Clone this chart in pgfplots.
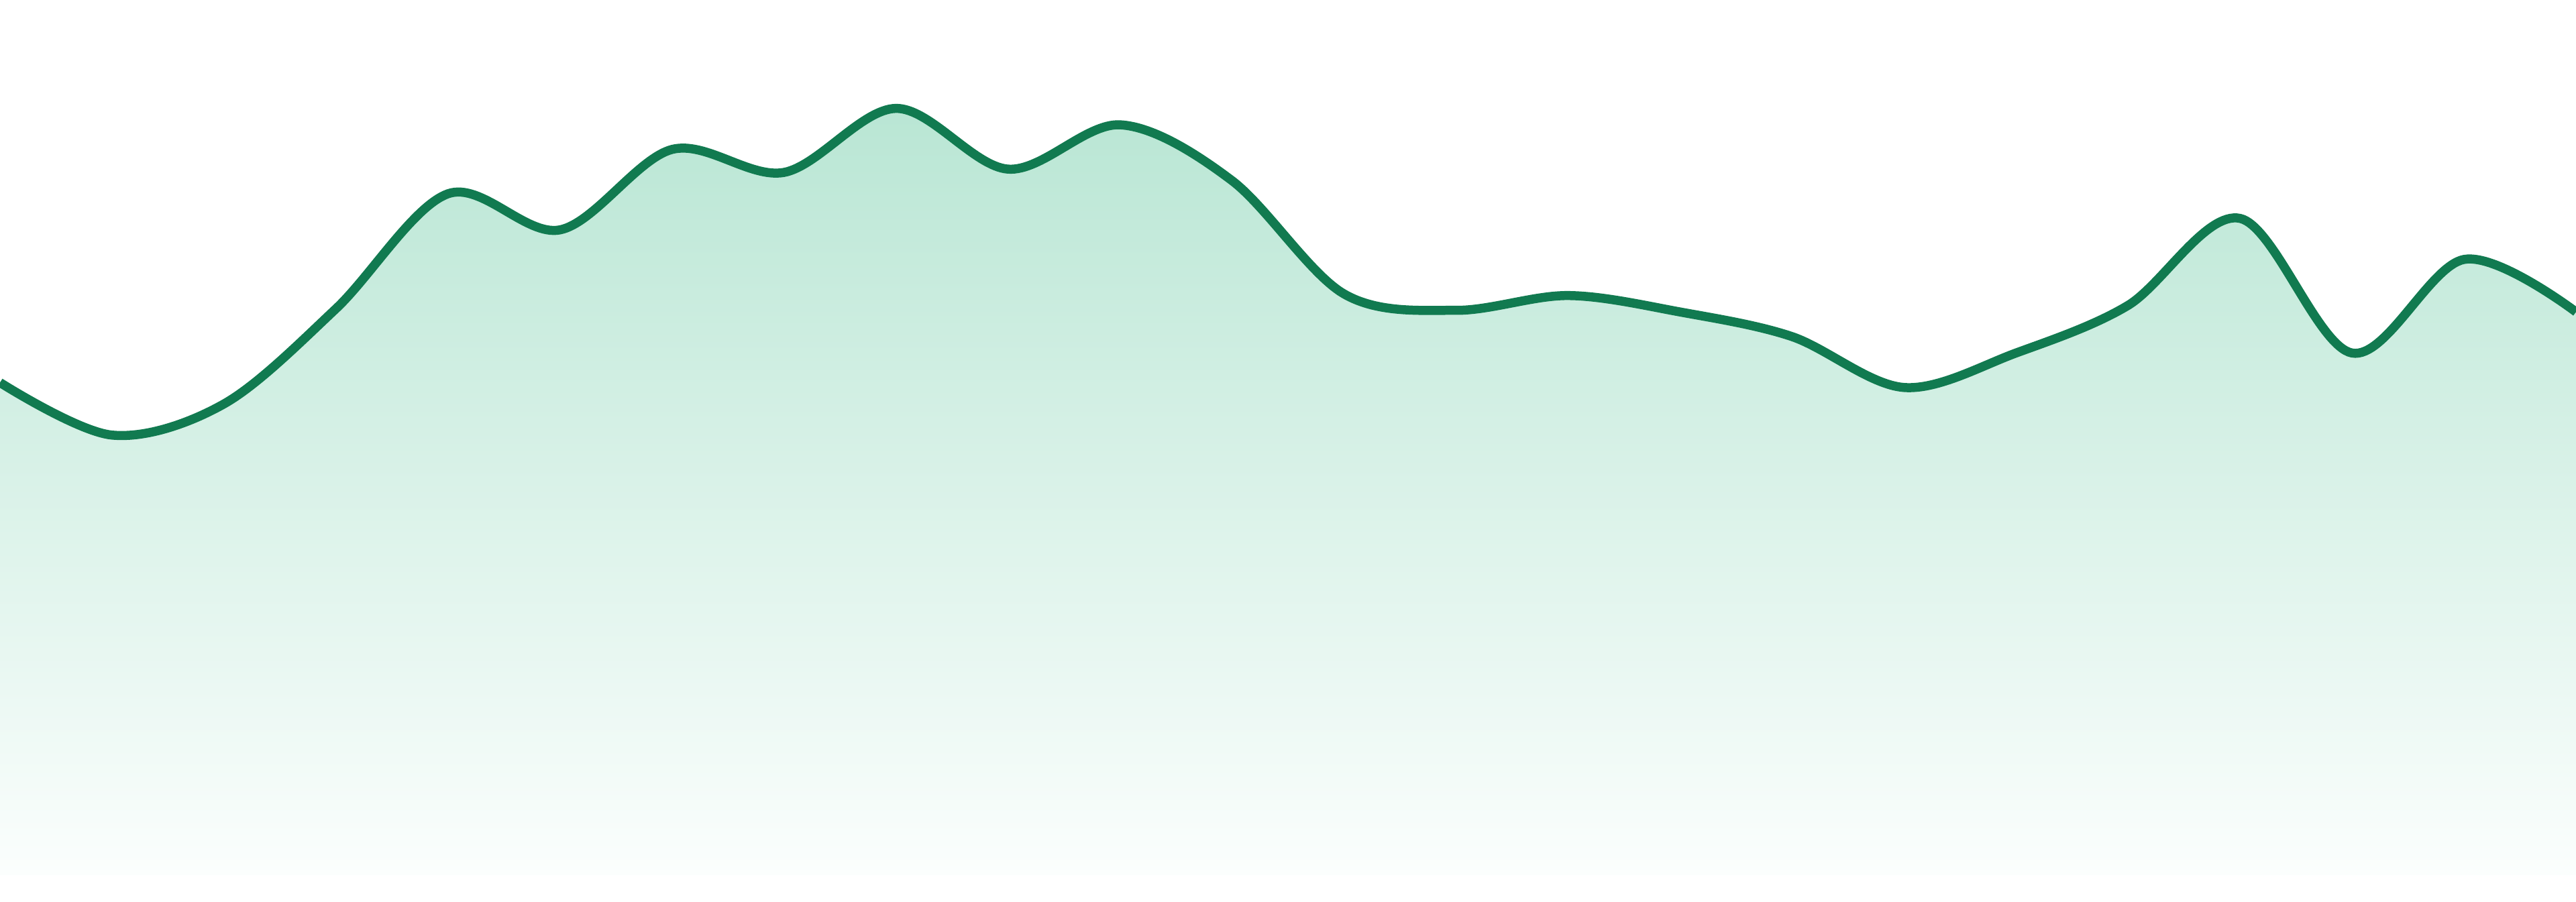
\documentclass[border=0pt]{standalone}
\usepackage{pgfplots}
\pgfplotsset{compat=1.18}
\definecolor{linegreen}{RGB}{17,122,80}
\definecolor{filltop}{RGB}{185,230,212}
\definecolor{fillbottom}{RGB}{251,254,253}
\begin{document}
\begin{tikzpicture}
\begin{axis}[
    scale only axis,
    width=20cm, height=7cm,
    xmin=0, xmax=23,
    ymin=-16, ymax=533,
    hide axis,
    clip=true,
]
% gradient area under the curve
\addplot[draw=none, top color=filltop, bottom color=fillbottom, smooth, tension=0.55]
coordinates {
(0,300) (1,268) (2,287) (3,345) (4,415) (5,393) (6,442) (7,428)
(8,467) (9,430) (10,457) (11,423) (12,354) (13,344) (14,353) (15,343)
(16,328) (17,297) (18,318) (19,347) (20,400) (21,318) (22,375) (23,343)
} \closedcycle;
% the line itself
\addplot[linegreen, line width=2pt, smooth, tension=0.55]
coordinates {
(0,300) (1,268) (2,287) (3,345) (4,415) (5,393) (6,442) (7,428)
(8,467) (9,430) (10,457) (11,423) (12,354) (13,344) (14,353) (15,343)
(16,328) (17,297) (18,318) (19,347) (20,400) (21,318) (22,375) (23,343)
};
\end{axis}
\path (0,0) rectangle (20cm,7cm);
\end{tikzpicture}
\end{document}
